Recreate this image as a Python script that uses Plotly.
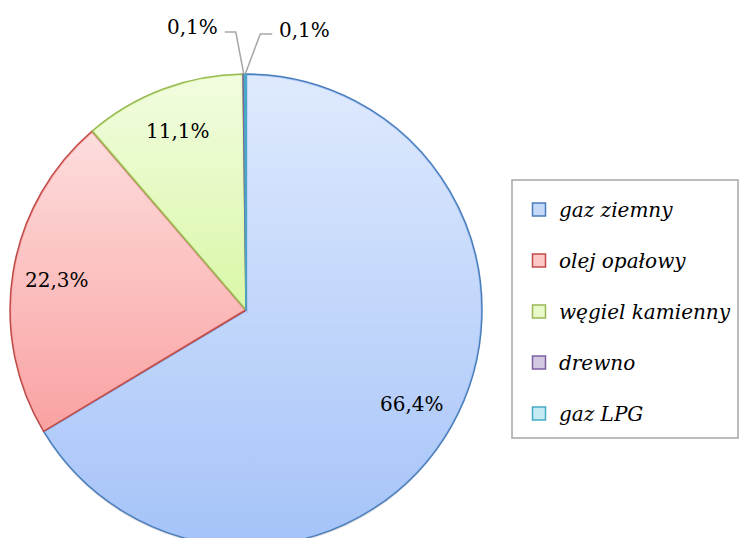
import base64
import numpy as np
import plotly.graph_objects as go

# udział paliw
labels = ["gaz ziemny", "olej opałowy", "węgiel kamienny", "drewno", "gaz LPG"]
values = [66.4, 22.3, 11.1, 0.1, 0.1]
text_labels = ["66,4%", "22,3%", "11,1%", "0,1%", "0,1%"]

fill_colors = ["#a6c4f9", "#faa2a2", "#daf8a8", "#b3a2c7", "#a5dcec"]
line_colors = ["#4a7ebb", "#be4b48", "#98b954", "#7d60a0", "#46aac5"]
legend_fills = ["#c6d9f8", "#fcc8c8", "#e8f9cc", "#d3c9e2", "#c6eaf4"]

W, H = 739, 548              # a bit taller than the window: the pie runs off the bottom
CX, CY, R = 246, 310, 236    # pie centre / radius in px


def px_to_paper(x, y):
    return x / W, 1 - y / H


fig = go.Figure()

# faint drop shadow under the pie
fig.add_trace(go.Pie(
    values=[1], labels=[""], textinfo="none", hoverinfo="skip", showlegend=False,
    marker=dict(colors=["rgba(0,0,0,0.12)"], line=dict(width=0)),
    domain=dict(x=[(CX - R) / W, (CX + R) / W],
                y=[(H - CY - R - 2) / H, (H - CY + R - 2) / H]),
))

fig.add_trace(go.Pie(
    labels=labels,
    values=values,
    sort=False,
    direction="clockwise",
    rotation=0,
    textinfo="none",
    hoverinfo="label+percent",
    showlegend=False,
    marker=dict(colors=fill_colors, line=dict(color=line_colors, width=1.5)),
    domain=dict(x=[(CX - R) / W, (CX + R) / W],
                y=[(H - CY - R) / H, (H - CY + R) / H]),
))

# legend built from dummy traces so the entries can be spaced out
for name, fc, lc in zip(labels, legend_fills, line_colors):
    fig.add_trace(go.Scatter(
        x=[None], y=[None], mode="markers", name=name, legendgroup=name,
        marker=dict(symbol="square", size=13, color=fc, line=dict(color=lc, width=1.5)),
    ))

# leader geometry for the two tiny slices: (elbow dx, line y, line length, label y)
leaders = {3: (-8, 32, -11, 27), 4: (15, 34, 12, 30)}

total = sum(values)
cum = np.cumsum([0] + values[:-1])
annotations = []
shapes = []
wedges = []
for i, (v, c, t) in enumerate(zip(values, cum, text_labels)):
    a0 = 2 * np.pi * c / total
    a1 = 2 * np.pi * (c + v) / total
    theta = (a0 + a1) / 2
    if v > 1:
        x, y = px_to_paper(CX + 0.81 * R * np.sin(theta), CY - 0.81 * R * np.cos(theta))
        annotations.append(dict(x=x, y=y, xref="paper", yref="paper", text=t,
                                xanchor="center", yanchor="middle",
                                showarrow=False, font=dict(size=20)))
        # wedge outline (in the pie's own box) for the shading overlay
        large = 1 if (a1 - a0) > np.pi else 0
        wedges.append(
            f"M {R},{R} L {R + R * np.sin(a0):.2f},{R - R * np.cos(a0):.2f} "
            f"A {R} {R} 0 {large} 1 {R + R * np.sin(a1):.2f},{R - R * np.cos(a1):.2f} Z")
    else:
        dx, ly, ln, ty = leaders[i]
        ex, ey = CX + R * np.sin(theta), CY - R * np.cos(theta)
        kx = ex + dx
        hx = kx + ln
        p0, p1, p2 = px_to_paper(ex, ey), px_to_paper(kx, ly), px_to_paper(hx, ly)
        shapes.append(dict(type="path", xref="paper", yref="paper",
                           path=f"M {p0[0]},{p0[1]} L {p1[0]},{p1[1]} L {p2[0]},{p2[1]}",
                           line=dict(color="#a6a6a6", width=1.5)))
        tx, tyy = px_to_paper(hx + (5 if ln > 0 else -5), ty)
        annotations.append(dict(x=tx, y=tyy, xref="paper", yref="paper", text=t,
                                showarrow=False, font=dict(size=20),
                                xanchor="left" if ln > 0 else "right", yanchor="middle"))

# legend frame
bx0, by0 = px_to_paper(512, 180)
bx1, by1 = px_to_paper(738, 438)
shapes.append(dict(type="rect", xref="paper", yref="paper", x0=bx0, y0=by0, x1=bx1, y1=by1,
                   line=dict(color="#a6a6a6", width=1.5), fillcolor="rgba(0,0,0,0)"))

# per-slice light-to-dark sheen (Excel style gradient), kept off the slice borders
S = 2 * R
fills = "".join(f'<path d="{d}" fill="url(#g)"/>' for d in wedges)
edges = "".join(f'<path d="{d}" fill="none" stroke="black" stroke-width="3"/>' for d in wedges)
svg = (f'<svg xmlns="http://www.w3.org/2000/svg" width="{S}" height="{S}" viewBox="0 0 {S} {S}">'
       '<defs><linearGradient id="g" x1="0" y1="0" x2="0" y2="1">'
       '<stop offset="0" stop-color="white" stop-opacity="0.64"/>'
       '<stop offset="1" stop-color="white" stop-opacity="0"/>'
       '</linearGradient>'
       f'<mask id="m" maskUnits="userSpaceOnUse" x="0" y="0" width="{S}" height="{S}">'
       f'<rect width="{S}" height="{S}" fill="white"/>{edges}</mask></defs>'
       f'<g mask="url(#m)">{fills}</g></svg>')
sheen = "data:image/svg+xml;base64," + base64.b64encode(svg.encode()).decode()
ix, iy = px_to_paper(CX - R, CY - R)

lx, ly_ = px_to_paper(519, 190)

fig.update_layout(
    width=W, height=H,
    margin=dict(l=0, r=0, t=0, b=0),
    paper_bgcolor="white", plot_bgcolor="white",
    font=dict(family="DejaVu Serif", color="black"),
    xaxis=dict(visible=False), yaxis=dict(visible=False),
    annotations=annotations,
    shapes=shapes,
    images=[dict(source=sheen, xref="paper", yref="paper", x=ix, y=iy,
                 sizex=S / W, sizey=S / H, sizing="stretch",
                 xanchor="left", yanchor="top", layer="above")],
    legend=dict(
        x=lx, y=ly_, xanchor="left", yanchor="top",
        borderwidth=0, bgcolor="rgba(0,0,0,0)",
        font=dict(family="DejaVu Serif", size=20, color="black", style="italic"),
        tracegroupgap=22, itemclick=False,
    ),
)

fig.write_html("out.html", config={"displayModeBar": False},
               post_script="document.body.style.margin='0';document.body.style.overflow='hidden';")
